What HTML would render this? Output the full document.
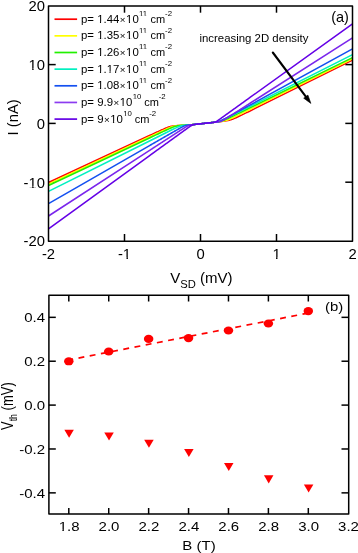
<!DOCTYPE html><html><head><meta charset="utf-8"><style>html,body{margin:0;padding:0;background:#fff;width:358px;height:553px;overflow:hidden}svg{display:block;will-change:transform}text{font-family:"Liberation Sans",sans-serif;fill:#000}</style></head><body>
<svg width="358" height="553" viewBox="0 0 358 553">
<rect width="358" height="553" fill="#fff"/>
<g stroke="#000" stroke-width="1.5" fill="none">
<line x1="124.50" x2="124.50" y1="241.2" y2="234"/>
<line x1="124.50" x2="124.50" y1="6" y2="12.7"/>
<line x1="200.50" x2="200.50" y1="241.2" y2="234"/>
<line x1="200.50" x2="200.50" y1="6" y2="12.7"/>
<line x1="276.50" x2="276.50" y1="241.2" y2="234"/>
<line x1="276.50" x2="276.50" y1="6" y2="12.7"/>
<line x1="48.5" x2="55.7" y1="64.60" y2="64.60"/>
<line x1="352.5" x2="345.3" y1="64.60" y2="64.60"/>
<line x1="48.5" x2="55.7" y1="123.40" y2="123.40"/>
<line x1="352.5" x2="345.3" y1="123.40" y2="123.40"/>
<line x1="48.5" x2="55.7" y1="182.20" y2="182.20"/>
<line x1="352.5" x2="345.3" y1="182.20" y2="182.20"/>
</g>
<g fill="none" stroke-width="1.55" stroke-linejoin="round">
<path d="M48.50 182.48 L150.00 135.29 L150.50 135.06 L151.00 134.83 L151.50 134.60 L152.00 134.37 L152.50 134.14 L153.00 133.91 L153.50 133.68 L154.00 133.45 L154.50 133.22 L155.00 132.99 L155.50 132.76 L156.00 132.53 L156.50 132.30 L157.00 132.07 L157.50 131.84 L158.00 131.62 L158.50 131.39 L159.00 131.16 L159.50 130.93 L160.00 130.71 L160.50 130.48 L161.00 130.26 L161.50 130.03 L162.00 129.81 L162.50 129.58 L163.00 129.36 L163.50 129.14 L164.00 128.92 L164.50 128.71 L165.00 128.49 L165.50 128.28 L166.00 128.07 L166.50 127.86 L167.00 127.66 L167.50 127.47 L168.00 127.28 L168.50 127.10 L169.00 126.93 L169.50 126.77 L170.00 126.63 L170.50 126.49 L171.00 126.37 L171.50 126.27 L172.00 126.17 L172.50 126.09 L173.00 126.02 L173.50 125.95 L174.00 125.89 L174.50 125.84 L175.00 125.79 L175.50 125.74 L176.00 125.70 L176.50 125.66 L177.00 125.62 L177.50 125.58 L178.00 125.55 L178.50 125.51 L179.00 125.48 L179.50 125.45 L180.00 125.41 L180.50 125.38 L181.00 125.35 L181.50 125.33 L182.00 125.30 L182.50 125.27 L183.00 125.24 L183.50 125.21 L184.00 125.19 L184.50 125.16 L185.00 125.13 L185.50 125.11 L186.00 125.08 L186.50 125.05 L187.00 125.03 L187.50 125.00 L188.00 124.98 L188.50 124.95 L189.00 124.93 L189.50 124.90 L190.00 124.88 L190.50 124.82 L191.00 124.77 L191.50 124.72 L192.00 124.66 L192.50 124.61 L193.00 124.56 L193.50 124.50 L194.00 124.45 L194.50 124.40 L195.00 124.35 L195.50 124.29 L196.00 124.24 L196.50 124.19 L197.00 124.13 L197.50 124.08 L198.00 124.03 L198.50 123.98 L199.00 123.92 L199.50 123.87 L200.00 123.82 L200.50 123.76 L201.00 123.71 L201.50 123.66 L202.00 123.61 L202.50 123.55 L203.00 123.50 L203.50 123.45 L204.00 123.39 L204.50 123.34 L205.00 123.29 L205.50 123.23 L206.00 123.18 L206.50 123.13 L207.00 123.08 L207.50 123.02 L208.00 122.97 L208.50 122.91 L209.00 122.86 L209.50 122.81 L210.00 122.75 L210.50 122.70 L211.00 122.65 L211.50 122.59 L212.00 122.54 L212.50 122.48 L213.00 122.43 L213.50 122.37 L214.00 122.32 L214.50 122.26 L215.00 122.21 L215.50 122.15 L216.00 122.10 L216.50 122.04 L217.00 121.99 L217.50 121.93 L218.00 121.87 L218.50 121.81 L219.00 121.76 L219.50 121.70 L220.00 121.64 L220.50 121.58 L221.00 121.52 L221.50 121.46 L222.00 121.39 L222.50 121.33 L223.00 121.26 L223.50 121.20 L224.00 121.13 L224.50 121.06 L225.00 120.99 L225.50 120.91 L226.00 120.83 L226.50 120.75 L227.00 120.66 L227.50 120.57 L228.00 120.47 L228.50 120.37 L229.00 120.25 L229.50 120.13 L230.00 119.99 L230.50 119.85 L231.00 119.69 L231.50 119.53 L232.00 119.35 L232.50 119.17 L233.00 118.98 L233.50 118.78 L234.00 118.57 L234.50 118.36 L235.00 118.14 L235.50 117.92 L236.00 117.69 L236.50 117.47 L237.00 117.24 L237.50 117.01 L238.00 116.77 L238.50 116.54 L239.00 116.30 L239.50 116.06 L240.00 115.82 L240.50 115.59 L241.00 115.35 L241.50 115.10 L242.00 114.86 L242.50 114.62 L243.00 114.38 L243.50 114.14 L244.00 113.89 L244.50 113.65 L245.00 113.41 L245.50 113.16 L246.00 112.92 L246.50 112.67 L247.00 112.43 L247.50 112.18 L248.00 111.94 L248.50 111.69 L249.00 111.44 L249.50 111.20 L250.00 110.95 L352.50 60.07" stroke="#ff0000"/>
<path d="M48.50 183.98 L150.00 136.57 L150.50 136.33 L151.00 136.10 L151.50 135.87 L152.00 135.64 L152.50 135.40 L153.00 135.17 L153.50 134.94 L154.00 134.71 L154.50 134.48 L155.00 134.24 L155.50 134.01 L156.00 133.78 L156.50 133.55 L157.00 133.32 L157.50 133.09 L158.00 132.86 L158.50 132.62 L159.00 132.39 L159.50 132.16 L160.00 131.93 L160.50 131.70 L161.00 131.47 L161.50 131.24 L162.00 131.01 L162.50 130.79 L163.00 130.56 L163.50 130.33 L164.00 130.10 L164.50 129.88 L165.00 129.65 L165.50 129.42 L166.00 129.20 L166.50 128.98 L167.00 128.76 L167.50 128.54 L168.00 128.32 L168.50 128.11 L169.00 127.89 L169.50 127.69 L170.00 127.48 L170.50 127.28 L171.00 127.09 L171.50 126.91 L172.00 126.74 L172.50 126.58 L173.00 126.43 L173.50 126.30 L174.00 126.18 L174.50 126.08 L175.00 125.99 L175.50 125.91 L176.00 125.83 L176.50 125.77 L177.00 125.72 L177.50 125.66 L178.00 125.62 L178.50 125.57 L179.00 125.53 L179.50 125.49 L180.00 125.45 L180.50 125.42 L181.00 125.39 L181.50 125.35 L182.00 125.32 L182.50 125.29 L183.00 125.26 L183.50 125.23 L184.00 125.20 L184.50 125.18 L185.00 125.15 L185.50 125.12 L186.00 125.09 L186.50 125.07 L187.00 125.04 L187.50 125.01 L188.00 124.99 L188.50 124.96 L189.00 124.94 L189.50 124.91 L190.00 124.88 L190.50 124.83 L191.00 124.78 L191.50 124.72 L192.00 124.67 L192.50 124.62 L193.00 124.56 L193.50 124.51 L194.00 124.46 L194.50 124.40 L195.00 124.35 L195.50 124.30 L196.00 124.25 L196.50 124.19 L197.00 124.14 L197.50 124.09 L198.00 124.03 L198.50 123.98 L199.00 123.93 L199.50 123.87 L200.00 123.82 L200.50 123.77 L201.00 123.72 L201.50 123.66 L202.00 123.61 L202.50 123.56 L203.00 123.50 L203.50 123.45 L204.00 123.40 L204.50 123.34 L205.00 123.29 L205.50 123.24 L206.00 123.18 L206.50 123.13 L207.00 123.08 L207.50 123.02 L208.00 122.97 L208.50 122.92 L209.00 122.86 L209.50 122.81 L210.00 122.75 L210.50 122.70 L211.00 122.64 L211.50 122.59 L212.00 122.53 L212.50 122.48 L213.00 122.42 L213.50 122.37 L214.00 122.31 L214.50 122.26 L215.00 122.20 L215.50 122.14 L216.00 122.08 L216.50 122.02 L217.00 121.97 L217.50 121.91 L218.00 121.85 L218.50 121.78 L219.00 121.72 L219.50 121.66 L220.00 121.59 L220.50 121.52 L221.00 121.45 L221.50 121.38 L222.00 121.31 L222.50 121.23 L223.00 121.14 L223.50 121.05 L224.00 120.96 L224.50 120.86 L225.00 120.75 L225.50 120.62 L226.00 120.49 L226.50 120.35 L227.00 120.19 L227.50 120.02 L228.00 119.85 L228.50 119.66 L229.00 119.46 L229.50 119.26 L230.00 119.05 L230.50 118.83 L231.00 118.61 L231.50 118.39 L232.00 118.16 L232.50 117.93 L233.00 117.70 L233.50 117.47 L234.00 117.23 L234.50 117.00 L235.00 116.76 L235.50 116.52 L236.00 116.28 L236.50 116.04 L237.00 115.80 L237.50 115.56 L238.00 115.32 L238.50 115.08 L239.00 114.84 L239.50 114.59 L240.00 114.35 L240.50 114.11 L241.00 113.87 L241.50 113.62 L242.00 113.38 L242.50 113.13 L243.00 112.89 L243.50 112.65 L244.00 112.40 L244.50 112.16 L245.00 111.91 L245.50 111.67 L246.00 111.42 L246.50 111.18 L247.00 110.93 L247.50 110.69 L248.00 110.44 L248.50 110.20 L249.00 109.95 L249.50 109.70 L250.00 109.46 L352.50 58.86" stroke="#ffff00"/>
<path d="M48.50 185.49 L150.00 137.71 L150.50 137.48 L151.00 137.24 L151.50 137.01 L152.00 136.77 L152.50 136.54 L153.00 136.31 L153.50 136.07 L154.00 135.84 L154.50 135.60 L155.00 135.37 L155.50 135.13 L156.00 134.90 L156.50 134.67 L157.00 134.43 L157.50 134.20 L158.00 133.96 L158.50 133.73 L159.00 133.50 L159.50 133.26 L160.00 133.03 L160.50 132.80 L161.00 132.56 L161.50 132.33 L162.00 132.10 L162.50 131.86 L163.00 131.63 L163.50 131.40 L164.00 131.17 L164.50 130.94 L165.00 130.71 L165.50 130.48 L166.00 130.24 L166.50 130.02 L167.00 129.79 L167.50 129.56 L168.00 129.33 L168.50 129.10 L169.00 128.88 L169.50 128.65 L170.00 128.43 L170.50 128.21 L171.00 127.99 L171.50 127.77 L172.00 127.56 L172.50 127.35 L173.00 127.15 L173.50 126.95 L174.00 126.77 L174.50 126.59 L175.00 126.43 L175.50 126.27 L176.00 126.14 L176.50 126.02 L177.00 125.92 L177.50 125.83 L178.00 125.75 L178.50 125.68 L179.00 125.62 L179.50 125.57 L180.00 125.52 L180.50 125.47 L181.00 125.43 L181.50 125.39 L182.00 125.36 L182.50 125.32 L183.00 125.29 L183.50 125.26 L184.00 125.22 L184.50 125.19 L185.00 125.16 L185.50 125.14 L186.00 125.11 L186.50 125.08 L187.00 125.05 L187.50 125.02 L188.00 125.00 L188.50 124.97 L189.00 124.94 L189.50 124.92 L190.00 124.89 L190.50 124.84 L191.00 124.78 L191.50 124.73 L192.00 124.68 L192.50 124.62 L193.00 124.57 L193.50 124.52 L194.00 124.46 L194.50 124.41 L195.00 124.36 L195.50 124.30 L196.00 124.25 L196.50 124.20 L197.00 124.14 L197.50 124.09 L198.00 124.04 L198.50 123.98 L199.00 123.93 L199.50 123.88 L200.00 123.82 L200.50 123.77 L201.00 123.72 L201.50 123.66 L202.00 123.61 L202.50 123.56 L203.00 123.50 L203.50 123.45 L204.00 123.40 L204.50 123.34 L205.00 123.29 L205.50 123.24 L206.00 123.18 L206.50 123.13 L207.00 123.07 L207.50 123.02 L208.00 122.96 L208.50 122.91 L209.00 122.86 L209.50 122.80 L210.00 122.74 L210.50 122.69 L211.00 122.63 L211.50 122.58 L212.00 122.52 L212.50 122.46 L213.00 122.40 L213.50 122.34 L214.00 122.28 L214.50 122.22 L215.00 122.16 L215.50 122.10 L216.00 122.03 L216.50 121.97 L217.00 121.90 L217.50 121.83 L218.00 121.75 L218.50 121.67 L219.00 121.59 L219.50 121.50 L220.00 121.40 L220.50 121.29 L221.00 121.17 L221.50 121.04 L222.00 120.90 L222.50 120.74 L223.00 120.57 L223.50 120.39 L224.00 120.20 L224.50 120.00 L225.00 119.79 L225.50 119.58 L226.00 119.36 L226.50 119.14 L227.00 118.91 L227.50 118.68 L228.00 118.45 L228.50 118.22 L229.00 117.98 L229.50 117.75 L230.00 117.51 L230.50 117.28 L231.00 117.04 L231.50 116.80 L232.00 116.56 L232.50 116.32 L233.00 116.08 L233.50 115.84 L234.00 115.60 L234.50 115.36 L235.00 115.12 L235.50 114.87 L236.00 114.63 L236.50 114.39 L237.00 114.15 L237.50 113.91 L238.00 113.66 L238.50 113.42 L239.00 113.18 L239.50 112.93 L240.00 112.69 L240.50 112.45 L241.00 112.20 L241.50 111.96 L242.00 111.72 L242.50 111.47 L243.00 111.23 L243.50 110.99 L244.00 110.74 L244.50 110.50 L245.00 110.25 L245.50 110.01 L246.00 109.77 L246.50 109.52 L247.00 109.28 L247.50 109.03 L248.00 108.79 L248.50 108.55 L249.00 108.30 L249.50 108.06 L250.00 107.81 L352.50 57.59" stroke="#22f000"/>
<path d="M48.50 191.39 L150.00 140.69 L150.50 140.44 L151.00 140.19 L151.50 139.94 L152.00 139.69 L152.50 139.44 L153.00 139.19 L153.50 138.94 L154.00 138.69 L154.50 138.44 L155.00 138.20 L155.50 137.95 L156.00 137.70 L156.50 137.45 L157.00 137.20 L157.50 136.95 L158.00 136.70 L158.50 136.45 L159.00 136.20 L159.50 135.95 L160.00 135.71 L160.50 135.46 L161.00 135.21 L161.50 134.96 L162.00 134.71 L162.50 134.46 L163.00 134.21 L163.50 133.97 L164.00 133.72 L164.50 133.47 L165.00 133.22 L165.50 132.97 L166.00 132.72 L166.50 132.48 L167.00 132.23 L167.50 131.98 L168.00 131.74 L168.50 131.49 L169.00 131.24 L169.50 130.99 L170.00 130.75 L170.50 130.50 L171.00 130.26 L171.50 130.01 L172.00 129.77 L172.50 129.52 L173.00 129.28 L173.50 129.04 L174.00 128.80 L174.50 128.56 L175.00 128.32 L175.50 128.08 L176.00 127.84 L176.50 127.61 L177.00 127.38 L177.50 127.16 L178.00 126.94 L178.50 126.72 L179.00 126.52 L179.50 126.33 L180.00 126.15 L180.50 125.99 L181.00 125.85 L181.50 125.73 L182.00 125.63 L182.50 125.54 L183.00 125.47 L183.50 125.40 L184.00 125.35 L184.50 125.30 L185.00 125.25 L185.50 125.21 L186.00 125.17 L186.50 125.14 L187.00 125.10 L187.50 125.07 L188.00 125.04 L188.50 125.01 L189.00 124.98 L189.50 124.95 L190.00 124.92 L190.50 124.86 L191.00 124.81 L191.50 124.75 L192.00 124.70 L192.50 124.64 L193.00 124.59 L193.50 124.53 L194.00 124.48 L194.50 124.43 L195.00 124.37 L195.50 124.32 L196.00 124.26 L196.50 124.21 L197.00 124.16 L197.50 124.10 L198.00 124.05 L198.50 124.00 L199.00 123.94 L199.50 123.89 L200.00 123.84 L200.50 123.78 L201.00 123.73 L201.50 123.68 L202.00 123.62 L202.50 123.57 L203.00 123.52 L203.50 123.46 L204.00 123.41 L204.50 123.35 L205.00 123.30 L205.50 123.25 L206.00 123.19 L206.50 123.14 L207.00 123.08 L207.50 123.03 L208.00 122.97 L208.50 122.92 L209.00 122.86 L209.50 122.81 L210.00 122.75 L210.50 122.69 L211.00 122.64 L211.50 122.58 L212.00 122.52 L212.50 122.46 L213.00 122.40 L213.50 122.34 L214.00 122.28 L214.50 122.21 L215.00 122.14 L215.50 122.07 L216.00 121.99 L216.50 121.91 L217.00 121.82 L217.50 121.73 L218.00 121.62 L218.50 121.50 L219.00 121.36 L219.50 121.21 L220.00 121.04 L220.50 120.86 L221.00 120.66 L221.50 120.45 L222.00 120.23 L222.50 120.01 L223.00 119.78 L223.50 119.55 L224.00 119.31 L224.50 119.08 L225.00 118.84 L225.50 118.59 L226.00 118.35 L226.50 118.11 L227.00 117.86 L227.50 117.62 L228.00 117.37 L228.50 117.12 L229.00 116.87 L229.50 116.63 L230.00 116.38 L230.50 116.13 L231.00 115.88 L231.50 115.63 L232.00 115.38 L232.50 115.13 L233.00 114.88 L233.50 114.63 L234.00 114.38 L234.50 114.13 L235.00 113.88 L235.50 113.63 L236.00 113.38 L236.50 113.13 L237.00 112.87 L237.50 112.62 L238.00 112.37 L238.50 112.12 L239.00 111.87 L239.50 111.62 L240.00 111.37 L240.50 111.12 L241.00 110.86 L241.50 110.61 L242.00 110.36 L242.50 110.11 L243.00 109.86 L243.50 109.61 L244.00 109.35 L244.50 109.10 L245.00 108.85 L245.50 108.60 L246.00 108.35 L246.50 108.10 L247.00 107.84 L247.50 107.59 L248.00 107.34 L248.50 107.09 L249.00 106.84 L249.50 106.58 L250.00 106.33 L352.50 54.61" stroke="#00f0c0"/>
<path d="M48.50 203.63 L150.00 145.33 L150.50 145.04 L151.00 144.75 L151.50 144.47 L152.00 144.18 L152.50 143.89 L153.00 143.60 L153.50 143.32 L154.00 143.03 L154.50 142.74 L155.00 142.46 L155.50 142.17 L156.00 141.88 L156.50 141.60 L157.00 141.31 L157.50 141.02 L158.00 140.74 L158.50 140.45 L159.00 140.16 L159.50 139.87 L160.00 139.59 L160.50 139.30 L161.00 139.01 L161.50 138.73 L162.00 138.44 L162.50 138.15 L163.00 137.87 L163.50 137.58 L164.00 137.29 L164.50 137.01 L165.00 136.72 L165.50 136.43 L166.00 136.15 L166.50 135.86 L167.00 135.57 L167.50 135.29 L168.00 135.00 L168.50 134.72 L169.00 134.43 L169.50 134.14 L170.00 133.86 L170.50 133.57 L171.00 133.28 L171.50 133.00 L172.00 132.71 L172.50 132.43 L173.00 132.14 L173.50 131.86 L174.00 131.57 L174.50 131.29 L175.00 131.00 L175.50 130.72 L176.00 130.43 L176.50 130.15 L177.00 129.87 L177.50 129.58 L178.00 129.30 L178.50 129.02 L179.00 128.74 L179.50 128.46 L180.00 128.18 L180.50 127.90 L181.00 127.63 L181.50 127.35 L182.00 127.08 L182.50 126.82 L183.00 126.56 L183.50 126.32 L184.00 126.08 L184.50 125.87 L185.00 125.68 L185.50 125.53 L186.00 125.40 L186.50 125.30 L187.00 125.23 L187.50 125.16 L188.00 125.11 L188.50 125.06 L189.00 125.02 L189.50 124.98 L190.00 124.95 L190.50 124.89 L191.00 124.83 L191.50 124.77 L192.00 124.71 L192.50 124.65 L193.00 124.60 L193.50 124.54 L194.00 124.49 L194.50 124.43 L195.00 124.38 L195.50 124.32 L196.00 124.27 L196.50 124.22 L197.00 124.16 L197.50 124.11 L198.00 124.06 L198.50 124.00 L199.00 123.95 L199.50 123.90 L200.00 123.84 L200.50 123.79 L201.00 123.74 L201.50 123.68 L202.00 123.63 L202.50 123.58 L203.00 123.53 L203.50 123.47 L204.00 123.42 L204.50 123.37 L205.00 123.31 L205.50 123.26 L206.00 123.21 L206.50 123.15 L207.00 123.10 L207.50 123.05 L208.00 122.99 L208.50 122.94 L209.00 122.89 L209.50 122.83 L210.00 122.78 L210.50 122.72 L211.00 122.67 L211.50 122.61 L212.00 122.56 L212.50 122.50 L213.00 122.44 L213.50 122.38 L214.00 122.32 L214.50 122.26 L215.00 122.20 L215.50 122.14 L216.00 122.07 L216.50 122.00 L217.00 121.92 L217.50 121.83 L218.00 121.73 L218.50 121.62 L219.00 121.48 L219.50 121.32 L220.00 121.14 L220.50 120.94 L221.00 120.72 L221.50 120.48 L222.00 120.24 L222.50 119.99 L223.00 119.73 L223.50 119.47 L224.00 119.21 L224.50 118.95 L225.00 118.68 L225.50 118.41 L226.00 118.15 L226.50 117.88 L227.00 117.61 L227.50 117.34 L228.00 117.07 L228.50 116.80 L229.00 116.53 L229.50 116.26 L230.00 115.99 L230.50 115.71 L231.00 115.44 L231.50 115.17 L232.00 114.90 L232.50 114.63 L233.00 114.35 L233.50 114.08 L234.00 113.81 L234.50 113.54 L235.00 113.26 L235.50 112.99 L236.00 112.72 L236.50 112.44 L237.00 112.17 L237.50 111.90 L238.00 111.63 L238.50 111.35 L239.00 111.08 L239.50 110.81 L240.00 110.53 L240.50 110.26 L241.00 109.99 L241.50 109.71 L242.00 109.44 L242.50 109.17 L243.00 108.89 L243.50 108.62 L244.00 108.35 L244.50 108.07 L245.00 107.80 L245.50 107.53 L246.00 107.25 L246.50 106.98 L247.00 106.71 L247.50 106.43 L248.00 106.16 L248.50 105.88 L249.00 105.61 L249.50 105.34 L250.00 105.06 L352.50 48.93" stroke="#1450f0"/>
<path d="M48.50 215.99 L150.00 150.11 L150.50 149.78 L151.00 149.46 L151.50 149.13 L152.00 148.81 L152.50 148.48 L153.00 148.16 L153.50 147.83 L154.00 147.51 L154.50 147.19 L155.00 146.86 L155.50 146.54 L156.00 146.21 L156.50 145.89 L157.00 145.56 L157.50 145.24 L158.00 144.91 L158.50 144.59 L159.00 144.27 L159.50 143.94 L160.00 143.62 L160.50 143.29 L161.00 142.97 L161.50 142.64 L162.00 142.32 L162.50 141.99 L163.00 141.67 L163.50 141.35 L164.00 141.02 L164.50 140.70 L165.00 140.37 L165.50 140.05 L166.00 139.72 L166.50 139.40 L167.00 139.08 L167.50 138.75 L168.00 138.43 L168.50 138.10 L169.00 137.78 L169.50 137.45 L170.00 137.13 L170.50 136.81 L171.00 136.48 L171.50 136.16 L172.00 135.83 L172.50 135.51 L173.00 135.19 L173.50 134.86 L174.00 134.54 L174.50 134.21 L175.00 133.89 L175.50 133.57 L176.00 133.24 L176.50 132.92 L177.00 132.60 L177.50 132.27 L178.00 131.95 L178.50 131.63 L179.00 131.30 L179.50 130.98 L180.00 130.66 L180.50 130.34 L181.00 130.01 L181.50 129.69 L182.00 129.37 L182.50 129.05 L183.00 128.73 L183.50 128.41 L184.00 128.09 L184.50 127.77 L185.00 127.46 L185.50 127.15 L186.00 126.84 L186.50 126.53 L187.00 126.24 L187.50 125.95 L188.00 125.69 L188.50 125.47 L189.00 125.28 L189.50 125.15 L190.00 125.06 L190.50 124.96 L191.00 124.88 L191.50 124.81 L192.00 124.74 L192.50 124.68 L193.00 124.62 L193.50 124.56 L194.00 124.50 L194.50 124.44 L195.00 124.39 L195.50 124.33 L196.00 124.28 L196.50 124.22 L197.00 124.17 L197.50 124.11 L198.00 124.06 L198.50 124.01 L199.00 123.95 L199.50 123.90 L200.00 123.85 L200.50 123.80 L201.00 123.74 L201.50 123.69 L202.00 123.64 L202.50 123.59 L203.00 123.53 L203.50 123.48 L204.00 123.43 L204.50 123.38 L205.00 123.33 L205.50 123.27 L206.00 123.22 L206.50 123.17 L207.00 123.12 L207.50 123.06 L208.00 123.01 L208.50 122.96 L209.00 122.91 L209.50 122.85 L210.00 122.80 L210.50 122.75 L211.00 122.70 L211.50 122.64 L212.00 122.59 L212.50 122.54 L213.00 122.48 L213.50 122.43 L214.00 122.38 L214.50 122.32 L215.00 122.27 L215.50 122.21 L216.00 122.16 L216.50 122.10 L217.00 122.04 L217.50 121.98 L218.00 121.92 L218.50 121.85 L219.00 121.78 L219.50 121.70 L220.00 121.60 L220.50 121.49 L221.00 121.34 L221.50 121.14 L222.00 120.91 L222.50 120.64 L223.00 120.36 L223.50 120.06 L224.00 119.76 L224.50 119.46 L225.00 119.15 L225.50 118.84 L226.00 118.53 L226.50 118.21 L227.00 117.90 L227.50 117.58 L228.00 117.27 L228.50 116.95 L229.00 116.64 L229.50 116.32 L230.00 116.00 L230.50 115.69 L231.00 115.37 L231.50 115.05 L232.00 114.73 L232.50 114.42 L233.00 114.10 L233.50 113.78 L234.00 113.46 L234.50 113.14 L235.00 112.83 L235.50 112.51 L236.00 112.19 L236.50 111.87 L237.00 111.55 L237.50 111.24 L238.00 110.92 L238.50 110.60 L239.00 110.28 L239.50 109.96 L240.00 109.64 L240.50 109.33 L241.00 109.01 L241.50 108.69 L242.00 108.37 L242.50 108.05 L243.00 107.73 L243.50 107.42 L244.00 107.10 L244.50 106.78 L245.00 106.46 L245.50 106.14 L246.00 105.82 L246.50 105.50 L247.00 105.19 L247.50 104.87 L248.00 104.55 L248.50 104.23 L249.00 103.91 L249.50 103.59 L250.00 103.27 L352.50 37.93" stroke="#7a26ec"/>
<path d="M48.50 228.79 L150.00 155.31 L150.50 154.95 L151.00 154.59 L151.50 154.23 L152.00 153.86 L152.50 153.50 L153.00 153.14 L153.50 152.78 L154.00 152.42 L154.50 152.05 L155.00 151.69 L155.50 151.33 L156.00 150.97 L156.50 150.61 L157.00 150.24 L157.50 149.88 L158.00 149.52 L158.50 149.16 L159.00 148.80 L159.50 148.43 L160.00 148.07 L160.50 147.71 L161.00 147.35 L161.50 146.99 L162.00 146.63 L162.50 146.26 L163.00 145.90 L163.50 145.54 L164.00 145.18 L164.50 144.82 L165.00 144.45 L165.50 144.09 L166.00 143.73 L166.50 143.37 L167.00 143.01 L167.50 142.64 L168.00 142.28 L168.50 141.92 L169.00 141.56 L169.50 141.20 L170.00 140.84 L170.50 140.47 L171.00 140.11 L171.50 139.75 L172.00 139.39 L172.50 139.03 L173.00 138.67 L173.50 138.30 L174.00 137.94 L174.50 137.58 L175.00 137.22 L175.50 136.86 L176.00 136.50 L176.50 136.13 L177.00 135.77 L177.50 135.41 L178.00 135.05 L178.50 134.69 L179.00 134.33 L179.50 133.97 L180.00 133.60 L180.50 133.24 L181.00 132.88 L181.50 132.52 L182.00 132.16 L182.50 131.80 L183.00 131.44 L183.50 131.08 L184.00 130.72 L184.50 130.36 L185.00 130.00 L185.50 129.64 L186.00 129.28 L186.50 128.92 L187.00 128.56 L187.50 128.20 L188.00 127.85 L188.50 127.49 L189.00 127.14 L189.50 126.79 L190.00 126.45 L190.50 126.11 L191.00 125.78 L191.50 125.47 L192.00 125.19 L192.50 124.96 L193.00 124.79 L193.50 124.67 L194.00 124.58 L194.50 124.50 L195.00 124.42 L195.50 124.36 L196.00 124.30 L196.50 124.24 L197.00 124.18 L197.50 124.12 L198.00 124.07 L198.50 124.01 L199.00 123.96 L199.50 123.91 L200.00 123.85 L200.50 123.80 L201.00 123.74 L201.50 123.69 L202.00 123.64 L202.50 123.59 L203.00 123.53 L203.50 123.48 L204.00 123.43 L204.50 123.38 L205.00 123.32 L205.50 123.27 L206.00 123.22 L206.50 123.16 L207.00 123.11 L207.50 123.06 L208.00 123.01 L208.50 122.95 L209.00 122.90 L209.50 122.84 L210.00 122.79 L210.50 122.74 L211.00 122.68 L211.50 122.62 L212.00 122.57 L212.50 122.51 L213.00 122.44 L213.50 122.38 L214.00 122.30 L214.50 122.21 L215.00 122.09 L215.50 121.92 L216.00 121.69 L216.50 121.41 L217.00 121.09 L217.50 120.76 L218.00 120.41 L218.50 120.07 L219.00 119.72 L219.50 119.36 L220.00 119.01 L220.50 118.65 L221.00 118.30 L221.50 117.94 L222.00 117.58 L222.50 117.23 L223.00 116.87 L223.50 116.51 L224.00 116.15 L224.50 115.79 L225.00 115.44 L225.50 115.08 L226.00 114.72 L226.50 114.36 L227.00 114.00 L227.50 113.64 L228.00 113.28 L228.50 112.92 L229.00 112.57 L229.50 112.21 L230.00 111.85 L230.50 111.49 L231.00 111.13 L231.50 110.77 L232.00 110.41 L232.50 110.05 L233.00 109.69 L233.50 109.33 L234.00 108.97 L234.50 108.61 L235.00 108.26 L235.50 107.90 L236.00 107.54 L236.50 107.18 L237.00 106.82 L237.50 106.46 L238.00 106.10 L238.50 105.74 L239.00 105.38 L239.50 105.02 L240.00 104.66 L240.50 104.30 L241.00 103.94 L241.50 103.58 L242.00 103.22 L242.50 102.86 L243.00 102.51 L243.50 102.15 L244.00 101.79 L244.50 101.43 L245.00 101.07 L245.50 100.71 L246.00 100.35 L246.50 99.99 L247.00 99.63 L247.50 99.27 L248.00 98.91 L248.50 98.55 L249.00 98.19 L249.50 97.83 L250.00 97.47 L352.50 23.77" stroke="#6400e6"/>
</g>
<rect x="48.5" y="6" width="304" height="235.2" stroke="#000" stroke-width="1.5" fill="none" stroke-linejoin="round"/>
<line x1="54.5" x2="77.1" y1="19.20" y2="19.20" stroke="#ff0000" stroke-width="1.7"/>
<text x="81" y="22.80" font-size="11.4">p= 1.44<tspan font-size="9.8" dx="0.5">×</tspan><tspan dx="0.5">10</tspan></text>
<text x="139.10" y="16.10" font-size="7.8">11</text>
<text x="150.60" y="22.80" font-size="11">cm</text>
<text x="165.10" y="16.10" font-size="7.8">-2</text>
<line x1="54.5" x2="77.1" y1="35.85" y2="35.85" stroke="#ffff00" stroke-width="1.7"/>
<text x="81" y="39.45" font-size="11.4">p= 1.35<tspan font-size="9.8" dx="0.5">×</tspan><tspan dx="0.5">10</tspan></text>
<text x="139.10" y="32.75" font-size="7.8">11</text>
<text x="150.60" y="39.45" font-size="11">cm</text>
<text x="165.10" y="32.75" font-size="7.8">-2</text>
<line x1="54.5" x2="77.1" y1="52.50" y2="52.50" stroke="#22f000" stroke-width="1.7"/>
<text x="81" y="56.10" font-size="11.4">p= 1.26<tspan font-size="9.8" dx="0.5">×</tspan><tspan dx="0.5">10</tspan></text>
<text x="139.10" y="49.40" font-size="7.8">11</text>
<text x="150.60" y="56.10" font-size="11">cm</text>
<text x="165.10" y="49.40" font-size="7.8">-2</text>
<line x1="54.5" x2="77.1" y1="69.15" y2="69.15" stroke="#00f0c0" stroke-width="1.7"/>
<text x="81" y="72.75" font-size="11.4">p= 1.17<tspan font-size="9.8" dx="0.5">×</tspan><tspan dx="0.5">10</tspan></text>
<text x="139.10" y="66.05" font-size="7.8">11</text>
<text x="150.60" y="72.75" font-size="11">cm</text>
<text x="165.10" y="66.05" font-size="7.8">-2</text>
<line x1="54.5" x2="77.1" y1="85.80" y2="85.80" stroke="#1450f0" stroke-width="1.7"/>
<text x="81" y="89.40" font-size="11.4">p= 1.08<tspan font-size="9.8" dx="0.5">×</tspan><tspan dx="0.5">10</tspan></text>
<text x="139.10" y="82.70" font-size="7.8">11</text>
<text x="150.60" y="89.40" font-size="11">cm</text>
<text x="165.10" y="82.70" font-size="7.8">-2</text>
<line x1="54.5" x2="77.1" y1="102.45" y2="102.45" stroke="#8c3cf0" stroke-width="1.7"/>
<text x="81" y="106.05" font-size="11.4">p= 9.9<tspan font-size="9.8" dx="0.5">×</tspan><tspan dx="0.5">10</tspan></text>
<text x="132.76" y="99.35" font-size="7.8">10</text>
<text x="144.26" y="106.05" font-size="11">cm</text>
<text x="158.76" y="99.35" font-size="7.8">-2</text>
<line x1="54.5" x2="77.1" y1="119.10" y2="119.10" stroke="#6400e6" stroke-width="1.7"/>
<text x="81" y="122.70" font-size="11.4">p= 9<tspan font-size="9.8" dx="0.5">×</tspan><tspan dx="0.5">10</tspan></text>
<text x="123.25" y="116.00" font-size="7.8">10</text>
<text x="134.75" y="122.70" font-size="11">cm</text>
<text x="149.25" y="116.00" font-size="7.8">-2</text>
<line x1="272.8" y1="52.5" x2="306.2" y2="97.2" stroke="#000" stroke-width="2.1" stroke-linecap="round"/>
<path d="M310.9 103.4 L303.7 98.2 L307.9 95.1 Z" fill="#000" stroke="#000" stroke-width="0.6" stroke-linejoin="round"/>
<text x="199.5" y="42.4" font-size="11.4">increasing 2D density</text>
<text x="331.2" y="21.5" font-size="14.5">(a)</text>
<text x="45" y="11.10" font-size="14.8" text-anchor="end">20</text>
<text x="45" y="69.90" font-size="14.8" text-anchor="end">10</text>
<text x="45" y="128.70" font-size="14.8" text-anchor="end">0</text>
<text x="45" y="187.50" font-size="14.8" text-anchor="end">-10</text>
<text x="45" y="246.30" font-size="14.8" text-anchor="end">-20</text>
<text x="48.50" y="259.2" font-size="14.8" text-anchor="middle">-2</text>
<text x="124.50" y="259.2" font-size="14.8" text-anchor="middle">-1</text>
<text x="200.50" y="259.2" font-size="14.8" text-anchor="middle">0</text>
<text x="276.50" y="259.2" font-size="14.8" text-anchor="middle">1</text>
<text x="352.50" y="259.2" font-size="14.8" text-anchor="middle">2</text>
<text x="170.3" y="282.8" font-size="15">V<tspan font-size="11.2" dy="4.8">SD</tspan><tspan dy="-4.8"> (mV)</tspan></text>
<text transform="translate(18.4 135.5) rotate(-90)" font-size="14.8">I (nA)</text>
<g stroke="#000" stroke-width="1.5" fill="none">
<rect x="48.9" y="295.25" width="299.8" height="218.85" stroke-linejoin="round"/>
<line x1="68.80" x2="68.80" y1="514.1" y2="508"/>
<line x1="68.80" x2="68.80" y1="295.25" y2="301.5"/>
<line x1="108.72" x2="108.72" y1="514.1" y2="508"/>
<line x1="108.72" x2="108.72" y1="295.25" y2="301.5"/>
<line x1="148.64" x2="148.64" y1="514.1" y2="508"/>
<line x1="148.64" x2="148.64" y1="295.25" y2="301.5"/>
<line x1="188.56" x2="188.56" y1="514.1" y2="508"/>
<line x1="188.56" x2="188.56" y1="295.25" y2="301.5"/>
<line x1="228.48" x2="228.48" y1="514.1" y2="508"/>
<line x1="228.48" x2="228.48" y1="295.25" y2="301.5"/>
<line x1="268.40" x2="268.40" y1="514.1" y2="508"/>
<line x1="268.40" x2="268.40" y1="295.25" y2="301.5"/>
<line x1="308.32" x2="308.32" y1="514.1" y2="508"/>
<line x1="308.32" x2="308.32" y1="295.25" y2="301.5"/>
<line x1="48.9" x2="55.8" y1="317.34" y2="317.34"/>
<line x1="348.7" x2="341.5" y1="317.34" y2="317.34"/>
<line x1="48.9" x2="55.8" y1="361.22" y2="361.22"/>
<line x1="348.7" x2="341.5" y1="361.22" y2="361.22"/>
<line x1="48.9" x2="55.8" y1="405.10" y2="405.10"/>
<line x1="348.7" x2="341.5" y1="405.10" y2="405.10"/>
<line x1="48.9" x2="55.8" y1="448.98" y2="448.98"/>
<line x1="348.7" x2="341.5" y1="448.98" y2="448.98"/>
<line x1="48.9" x2="55.8" y1="492.86" y2="492.86"/>
<line x1="348.7" x2="341.5" y1="492.86" y2="492.86"/>
</g>
<line x1="67.30" y1="360.29" x2="308.40" y2="313.04" stroke="#f00" stroke-width="1.7" stroke-dasharray="5.91 5.503"/>
<ellipse cx="68.80" cy="361.30" rx="4.75" ry="4.05" fill="#f00"/>
<ellipse cx="108.72" cy="351.50" rx="4.75" ry="4.05" fill="#f00"/>
<ellipse cx="148.64" cy="338.90" rx="4.75" ry="4.05" fill="#f00"/>
<ellipse cx="188.56" cy="338.10" rx="4.75" ry="4.05" fill="#f00"/>
<ellipse cx="228.48" cy="330.50" rx="4.75" ry="4.05" fill="#f00"/>
<ellipse cx="268.40" cy="323.50" rx="4.75" ry="4.05" fill="#f00"/>
<ellipse cx="308.32" cy="311.10" rx="4.75" ry="4.05" fill="#f00"/>
<path d="M64.35 429.70 L73.85 429.70 L69.10 437.80 Z" fill="#f00"/>
<path d="M104.27 432.40 L113.77 432.40 L109.02 440.50 Z" fill="#f00"/>
<path d="M144.19 439.70 L153.69 439.70 L148.94 447.80 Z" fill="#f00"/>
<path d="M184.11 448.90 L193.61 448.90 L188.86 457.00 Z" fill="#f00"/>
<path d="M224.03 463.00 L233.53 463.00 L228.78 471.10 Z" fill="#f00"/>
<path d="M263.95 475.30 L273.45 475.30 L268.70 483.40 Z" fill="#f00"/>
<path d="M303.87 484.50 L313.37 484.50 L308.62 492.60 Z" fill="#f00"/>
<text transform="translate(45.00 322.24) scale(1.200 1)" font-size="12.5" text-anchor="end">0.4</text>
<text transform="translate(45.00 366.12) scale(1.200 1)" font-size="12.5" text-anchor="end">0.2</text>
<text transform="translate(45.00 410.00) scale(1.200 1)" font-size="12.5" text-anchor="end">0.0</text>
<text transform="translate(45.00 453.88) scale(1.200 1)" font-size="12.5" text-anchor="end">-0.2</text>
<text transform="translate(45.00 497.76) scale(1.200 1)" font-size="12.5" text-anchor="end">-0.4</text>
<text transform="translate(69.10 531.00) scale(1.200 1)" font-size="12.5" text-anchor="middle">1.8</text>
<text transform="translate(109.02 531.00) scale(1.200 1)" font-size="12.5" text-anchor="middle">2.0</text>
<text transform="translate(148.94 531.00) scale(1.200 1)" font-size="12.5" text-anchor="middle">2.2</text>
<text transform="translate(188.86 531.00) scale(1.200 1)" font-size="12.5" text-anchor="middle">2.4</text>
<text transform="translate(228.78 531.00) scale(1.200 1)" font-size="12.5" text-anchor="middle">2.6</text>
<text transform="translate(268.70 531.00) scale(1.200 1)" font-size="12.5" text-anchor="middle">2.8</text>
<text transform="translate(308.62 531.00) scale(1.200 1)" font-size="12.5" text-anchor="middle">3.0</text>
<text transform="translate(348.54 531.00) scale(1.200 1)" font-size="12.5" text-anchor="middle">3.2</text>
<text transform="translate(199.00 550.00) scale(1.200 1)" font-size="12.5" text-anchor="middle">B (T)</text>
<text transform="translate(325.00 310.80) scale(1.120 1)" font-size="13.3" text-anchor="start">(b)</text>
<text transform="translate(12.6 430) scale(1.2 1) rotate(-90)" font-size="13">V<tspan font-size="8.8" dy="3.8">th</tspan><tspan dy="-3.8"> (mV)</tspan></text>
<g fill="#fff" stroke="none"><rect x="97.14" y="21.52" width="2.83" height="1.50"/><rect x="101.06" y="21.52" width="2.42" height="1.50"/><rect x="126.06" y="21.52" width="2.83" height="1.50"/><rect x="129.98" y="21.52" width="2.42" height="1.50"/><rect x="139.10" y="15.22" width="1.93" height="1.03"/><rect x="141.78" y="15.22" width="1.66" height="1.03"/><rect x="142.85" y="15.22" width="1.93" height="1.03"/><rect x="145.53" y="15.22" width="1.66" height="1.03"/><rect x="97.14" y="38.17" width="2.83" height="1.50"/><rect x="101.06" y="38.17" width="2.42" height="1.50"/><rect x="126.06" y="38.17" width="2.83" height="1.50"/><rect x="129.98" y="38.17" width="2.42" height="1.50"/><rect x="139.10" y="31.87" width="1.93" height="1.03"/><rect x="141.78" y="31.87" width="1.66" height="1.03"/><rect x="142.85" y="31.87" width="1.93" height="1.03"/><rect x="145.53" y="31.87" width="1.66" height="1.03"/><rect x="97.14" y="54.82" width="2.83" height="1.50"/><rect x="101.06" y="54.82" width="2.42" height="1.50"/><rect x="126.06" y="54.82" width="2.83" height="1.50"/><rect x="129.98" y="54.82" width="2.42" height="1.50"/><rect x="139.10" y="48.52" width="1.93" height="1.03"/><rect x="141.78" y="48.52" width="1.66" height="1.03"/><rect x="142.85" y="48.52" width="1.93" height="1.03"/><rect x="145.53" y="48.52" width="1.66" height="1.03"/><rect x="97.14" y="71.47" width="2.83" height="1.50"/><rect x="101.06" y="71.47" width="2.42" height="1.50"/><rect x="106.64" y="71.47" width="2.83" height="1.50"/><rect x="110.56" y="71.47" width="2.42" height="1.50"/><rect x="126.06" y="71.47" width="2.83" height="1.50"/><rect x="129.98" y="71.47" width="2.42" height="1.50"/><rect x="139.10" y="65.17" width="1.93" height="1.03"/><rect x="141.78" y="65.17" width="1.66" height="1.03"/><rect x="142.85" y="65.17" width="1.93" height="1.03"/><rect x="145.53" y="65.17" width="1.66" height="1.03"/><rect x="97.14" y="88.12" width="2.83" height="1.50"/><rect x="101.06" y="88.12" width="2.42" height="1.50"/><rect x="126.06" y="88.12" width="2.83" height="1.50"/><rect x="129.98" y="88.12" width="2.42" height="1.50"/><rect x="139.10" y="81.82" width="1.93" height="1.03"/><rect x="141.78" y="81.82" width="1.66" height="1.03"/><rect x="142.85" y="81.82" width="1.93" height="1.03"/><rect x="145.53" y="81.82" width="1.66" height="1.03"/><rect x="119.73" y="104.77" width="2.83" height="1.50"/><rect x="123.65" y="104.77" width="2.42" height="1.50"/><rect x="132.76" y="98.47" width="1.93" height="1.03"/><rect x="135.44" y="98.47" width="1.66" height="1.03"/><rect x="110.23" y="121.42" width="2.83" height="1.50"/><rect x="114.15" y="121.42" width="2.42" height="1.50"/><rect x="123.25" y="115.12" width="1.93" height="1.03"/><rect x="125.93" y="115.12" width="1.66" height="1.03"/><rect x="28.53" y="68.24" width="3.67" height="1.95"/><rect x="33.62" y="68.24" width="3.14" height="1.95"/><rect x="28.53" y="185.84" width="3.67" height="1.95"/><rect x="33.62" y="185.84" width="3.14" height="1.95"/><rect x="122.84" y="257.54" width="3.67" height="1.95"/><rect x="127.92" y="257.54" width="3.14" height="1.95"/><rect x="272.38" y="257.54" width="3.67" height="1.95"/><rect x="277.47" y="257.54" width="3.14" height="1.95"/><g transform="translate(69.10 531.00) scale(1.200 1)"><rect x="-8.69" y="-1.40" width="3.10" height="1.65"/><rect x="-4.39" y="-1.40" width="2.66" height="1.65"/></g></g>
</svg></body></html>
